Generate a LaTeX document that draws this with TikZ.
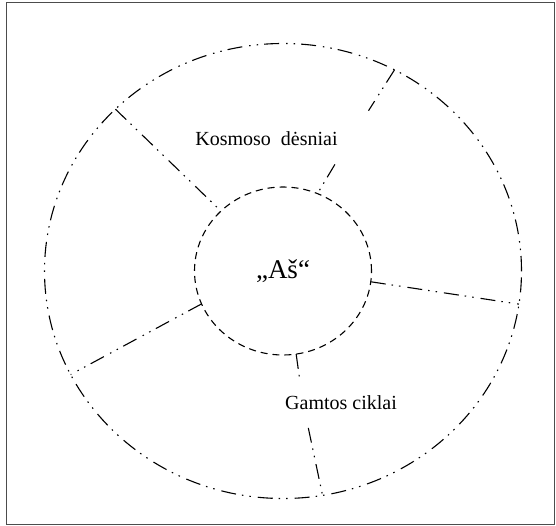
\documentclass[tikz,border=0pt]{standalone}
\usepackage{fontspec}
\setmainfont{Liberation Serif}
\usepackage{tikz}
\usetikzlibrary{shapes.geometric}

\begin{document}
\begin{tikzpicture}[
  x=1pt, y=-1pt,
  dashdotdot/.style={line width=1.1pt, dash pattern=on 15pt off 6pt on 1.5pt off 6pt on 1.5pt off 7pt},
  ring/.style={ellipse, draw, inner sep=0pt, outer sep=0pt, dashdotdot},
  selfring/.style={ellipse, draw, inner sep=0pt, outer sep=0pt, line width=1.1pt, dash pattern=on 7pt off 5pt},
  spoke/.style={dashdotdot},
  lbl/.style={font=\fontsize{20}{24}\selectfont},
]
\useasboundingbox (0,0) rectangle (556,526);

% Frame
\draw[black!70, line width=0.9pt] (6,2.5) rectangle (554.5,524.5);

% Rings
\node[ring, minimum width=477pt, minimum height=455pt] (cosmos) at (283,271) {};
\node[selfring, minimum width=177pt, minimum height=168pt, font=\fontsize{27}{32}\selectfont] (self) at (283,271) {„Aš“};

% Labels
\node[lbl] (laws) at (266.5,139) {Kosmoso~~dėsniai};
\node[lbl] (cycles) at (341,403) {Gamtos ciklai};

% Gaps round the labels
\coordinate (lawsA) at (368.5,110.7);
\coordinate (lawsB) at (334.9,164.4);
\coordinate (cyclesA) at (299.4,377.5);
\coordinate (cyclesB) at (308.3,427.9);

% Spokes
\draw[spoke] (cosmos.136) -- (self.136);
\draw[spoke] (cosmos.61) -- (lawsA);
\draw[spoke] (lawsB) -- (self.66);
\draw[spoke] (self.-7) -- (cosmos.-8);
\draw[spoke] (self.202) -- (cosmos.206.6);
\draw[spoke] (self.-81) -- (cyclesA);
\draw[spoke] (cyclesB) -- (cosmos.-80.8);

\end{tikzpicture}
\end{document}
